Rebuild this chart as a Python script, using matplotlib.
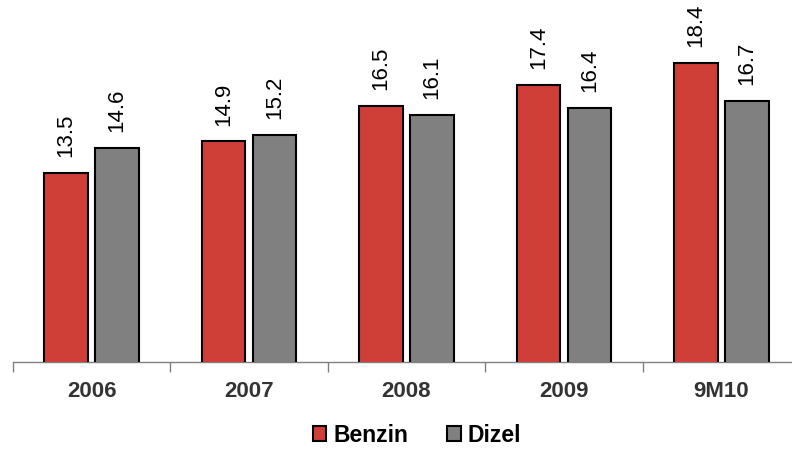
import numpy as np
import matplotlib.pyplot as plt
from matplotlib.patches import Patch

plt.rcParams['font.family'] = ['Liberation Sans', 'DejaVu Sans']

categories = ['2006', '2007', '2008', '2009', '9M10']
benzin = [13.5, 14.9, 16.5, 17.4, 18.4]
dizel = [14.6, 15.2, 16.1, 16.4, 16.7]

red = '#CF3F38'
gray = '#808080'

fig = plt.figure(figsize=(7.92, 4.49), dpi=100)
# the axis runs past the right edge of the picture, like the original
ax = fig.add_axes([13/792, 1 - 362/449, 787/792, 362/449])

x = np.arange(len(categories))
w = 0.278
off = 0.162
b1 = ax.bar(x - off, benzin, w, color=red, edgecolor='black', linewidth=1.5, zorder=3)
b2 = ax.bar(x + off, dizel, w, color=gray, edgecolor='black', linewidth=1.5, zorder=3)

ax.set_ylim(5.08, 21.2)
ax.set_xlim(-0.5, len(categories) - 0.5)

for rects, vals in ((b1, benzin), (b2, dizel)):
    for r, v in zip(rects, vals):
        ax.annotate(f'{v:.1f}', (r.get_x() + r.get_width() / 2, v),
                    xytext=(0, 11.5), textcoords='offset points',
                    rotation=90, ha='center', va='bottom', fontsize=16, color='black')

for s in ('top', 'right', 'left'):
    ax.spines[s].set_visible(False)
ax.spines['bottom'].set_color('#808080')
ax.spines['bottom'].set_linewidth(1)
ax.set_yticks([])

ax.set_xticks(np.arange(len(categories) + 1) - 0.5, minor=False)
ax.set_xticklabels([])
ax.tick_params(axis='x', which='major', length=7, color='#808080', width=1, direction='out')
ax.set_xticks(x, minor=True)
ax.set_xticklabels(categories, minor=True)
ax.tick_params(axis='x', which='minor', length=0, pad=14, labelsize=16, labelcolor='#333333')
for t in ax.get_xticklabels(minor=True):
    t.set_fontweight('bold')

handles = [Patch(facecolor=red, edgecolor='black', linewidth=1.5, label='Benzin'),
           Patch(facecolor=gray, edgecolor='black', linewidth=1.5, label='Dizel')]
fig.legend(handles=handles, loc='center', bbox_to_anchor=(417/792, 1 - 435/449),
           ncol=2, frameon=False, handlelength=0.6, handleheight=0.6,
           handletextpad=0.3, columnspacing=1.7,
           prop={'weight': 'bold', 'size': 16.5})

fig.savefig('out.png', dpi=100)
